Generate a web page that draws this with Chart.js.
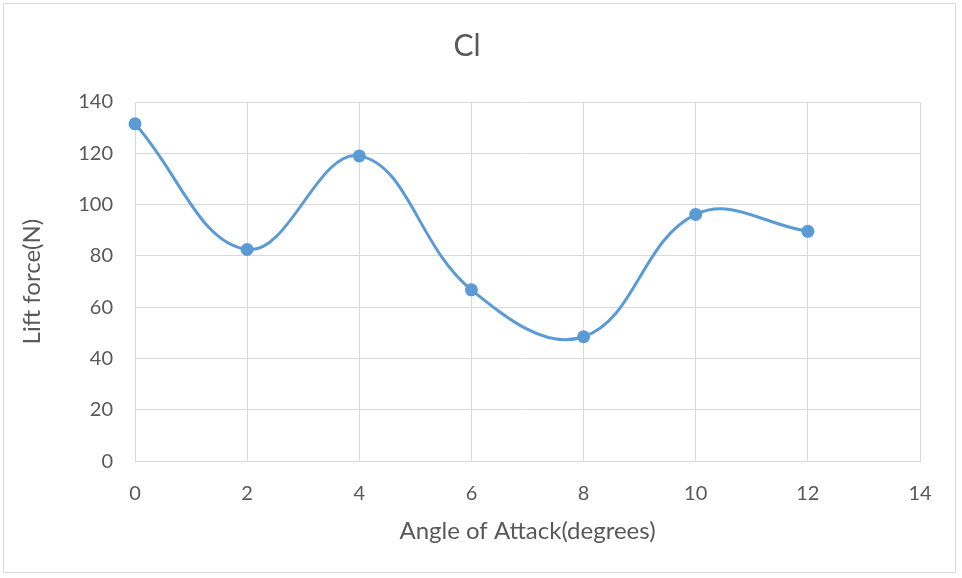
<!DOCTYPE html>
<html>
<head>
<meta charset="utf-8">
<script src="https://cdn.jsdelivr.net/npm/chart.js@4"></script>
<style>
  html, body { margin: 0; padding: 0; background: #fff; }
  #wrap { position: relative; width: 962px; height: 578px; }
  #frame { position: absolute; left: 3px; top: 3px; width: 953px; height: 570px; border: 1px solid #d9d9d9; box-sizing: border-box; pointer-events: none; }
</style>
</head>
<body>
<div id="wrap">
  <canvas id="c" width="962" height="578"></canvas>
  <div id="frame"></div>
</div>
<script>
const angles = [0, 2, 4, 6, 8, 10, 12];
const liftForce = [131.5, 82.5, 119, 66.8, 48.5, 96.2, 89.6];
const chartTitle = 'Cl';
const xTitle = 'Angle of Attack(degrees)';
const yTitle = 'Lift force(N)';

const FONT = 'Lato, "Open Sans", sans-serif';
const GREY = '#595959';
const GRID = '#d9d9d9';
const BLUE = '#5b9bd5';

// plot area in the reference: left 135, right 920, top 102, bottom 460
const PLOT = { left: 135, right: 920 };

new Chart(document.getElementById('c'), {
    type: 'line',
    data: {
        datasets: [{
            data: angles.map((a, i) => ({ x: a, y: liftForce[i] })),
            borderColor: BLUE,
            backgroundColor: BLUE,
            borderWidth: 3,
            pointRadius: 6.5,
            pointBorderWidth: 0,
            tension: 0.4,
            clip: false
        }]
    },
    options: {
        responsive: false,
        animation: false,
        layout: { padding: { left: 14, right: 962 - PLOT.right, top: 0, bottom: 28 } },
        plugins: {
            legend: { display: false },
            tooltip: { enabled: false },
            title: {
                display: true,
                text: chartTitle,
                color: GREY,
                font: { family: FONT, size: 30, weight: 'normal' },
                padding: { top: 28, bottom: 38 }
            }
        },
        scales: {
            x: {
                type: 'linear',
                min: 0, max: 14,
                ticks: { stepSize: 2, color: GREY, font: { family: FONT, size: 20 }, padding: 20 },
                grid: { color: GRID, lineWidth: 1, drawTicks: false },
                border: { color: GRID },
                title: { display: true, text: xTitle, color: GREY, font: { family: FONT, size: 24 }, padding: { top: -8, bottom: 4 } }
            },
            y: {
                min: 0, max: 140,
                ticks: { stepSize: 20, color: GREY, font: { family: FONT, size: 20 }, padding: 22 },
                grid: { color: GRID, lineWidth: 1, drawTicks: false },
                border: { display: false },
                title: { display: true, text: yTitle, color: GREY, font: { family: FONT, size: 24 }, padding: { top: 4, bottom: 0 } },
                afterFit: s => { s.width = PLOT.left - 14; }
            }
        }
    }
});
</script>
</body>
</html>
